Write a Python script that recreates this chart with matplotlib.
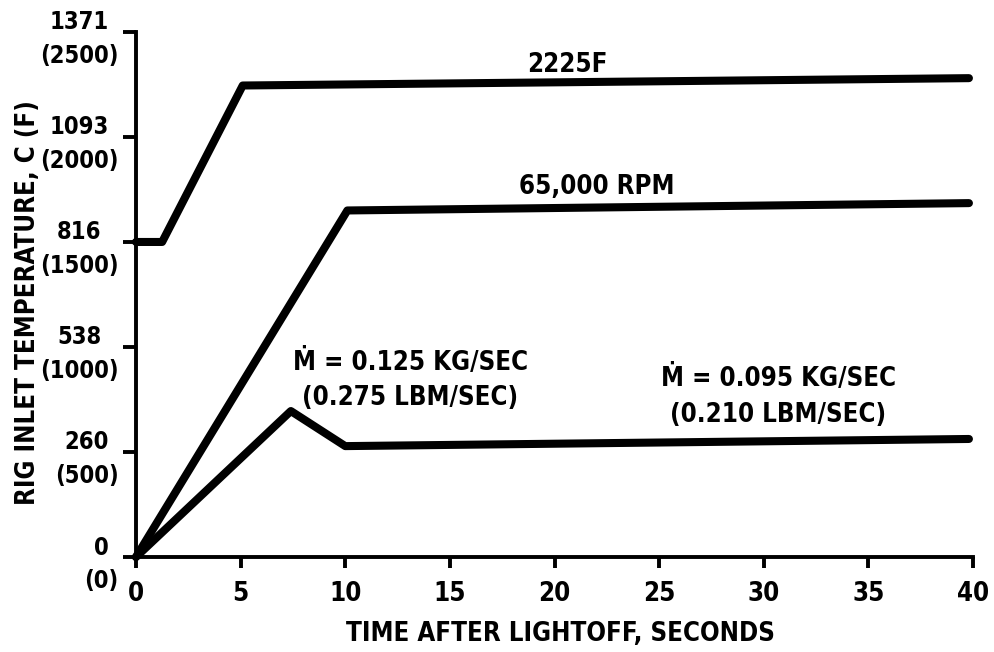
import matplotlib
matplotlib.use("Agg")
import matplotlib.pyplot as plt

plt.rcParams['font.family'] = ['DejaVu Sans']

# ---- data (time in s, temperature in F)
t_inlet = [0, 1.25, 5.1, 39.8]
T_inlet = [1500, 1500, 2245, 2280]

t_rpm = [0, 10.1, 39.8]
T_rpm = [0, 1650, 1685]

t_flow = [0, 7.4, 10.0, 39.8]
T_flow = [0, 695, 528, 562]

xticks = [0, 5, 10, 15, 20, 25, 30, 35, 40]
yticks = [0, 500, 1000, 1500, 2000, 2500]
ylabels = ['0\n(0)', '260\n(500)', '538\n(1000)', '816\n(1500)', '1093\n(2000)', '1371\n(2500)']

fig = plt.figure(figsize=(9.94, 6.52), dpi=100)
ax = fig.add_axes([0.1368, 0.1457, 0.979 - 0.1368, 0.951 - 0.1457])

lw = 5.8
for t, T in [(t_inlet, T_inlet), (t_rpm, T_rpm), (t_flow, T_flow)]:
    ax.plot(t, T, color='black', lw=lw, solid_capstyle='round',
            solid_joinstyle='round', clip_on=False)

ax.set_xlim(0, 40)
ax.set_ylim(0, 2500)
ax.spines['top'].set_visible(False)
ax.spines['right'].set_visible(False)
ax.spines['left'].set_linewidth(2.8)
ax.spines['bottom'].set_linewidth(2.8)

fp = dict(fontsize=18.5, fontweight='bold', fontstretch='condensed')
fp_y = dict(fontsize=17, fontweight='bold', fontstretch='condensed')
ax.set_xticks(xticks)
ax.set_xticklabels([str(x) for x in xticks], **fp)
ax.set_yticks(yticks)
ax.set_yticklabels(ylabels, multialignment='center', linespacing=1.5, **fp_y)
ax.tick_params(axis='x', length=8, width=2.8, pad=9)
ax.tick_params(axis='y', length=9.5, width=2.8, pad=3)

ax.set_xlabel('TIME AFTER LIGHTOFF, SECONDS', **fp)
ax.xaxis.set_label_coords(0.507, -0.122)
ax.set_ylabel('RIG INLET TEMPERATURE, C (F)', **fp)
ax.yaxis.set_label_coords(-0.113, 0.485)

# annotations
ax.text(20.6, 2345, '2225F', ha='center', va='center', **fp)
ax.text(22.0, 1760, '65,000 RPM', ha='center', va='center', **fp)
ax.text(13.1, 845, 'Ṁ = 0.125 KG/SEC\n(0.275 LBM/SEC)', ha='center', va='center',
        linespacing=1.45, **fp)
ax.text(30.7, 762, 'Ṁ = 0.095 KG/SEC\n(0.210 LBM/SEC)', ha='center', va='center',
        linespacing=1.5, **fp)

fig.savefig('out.png', dpi=100)
